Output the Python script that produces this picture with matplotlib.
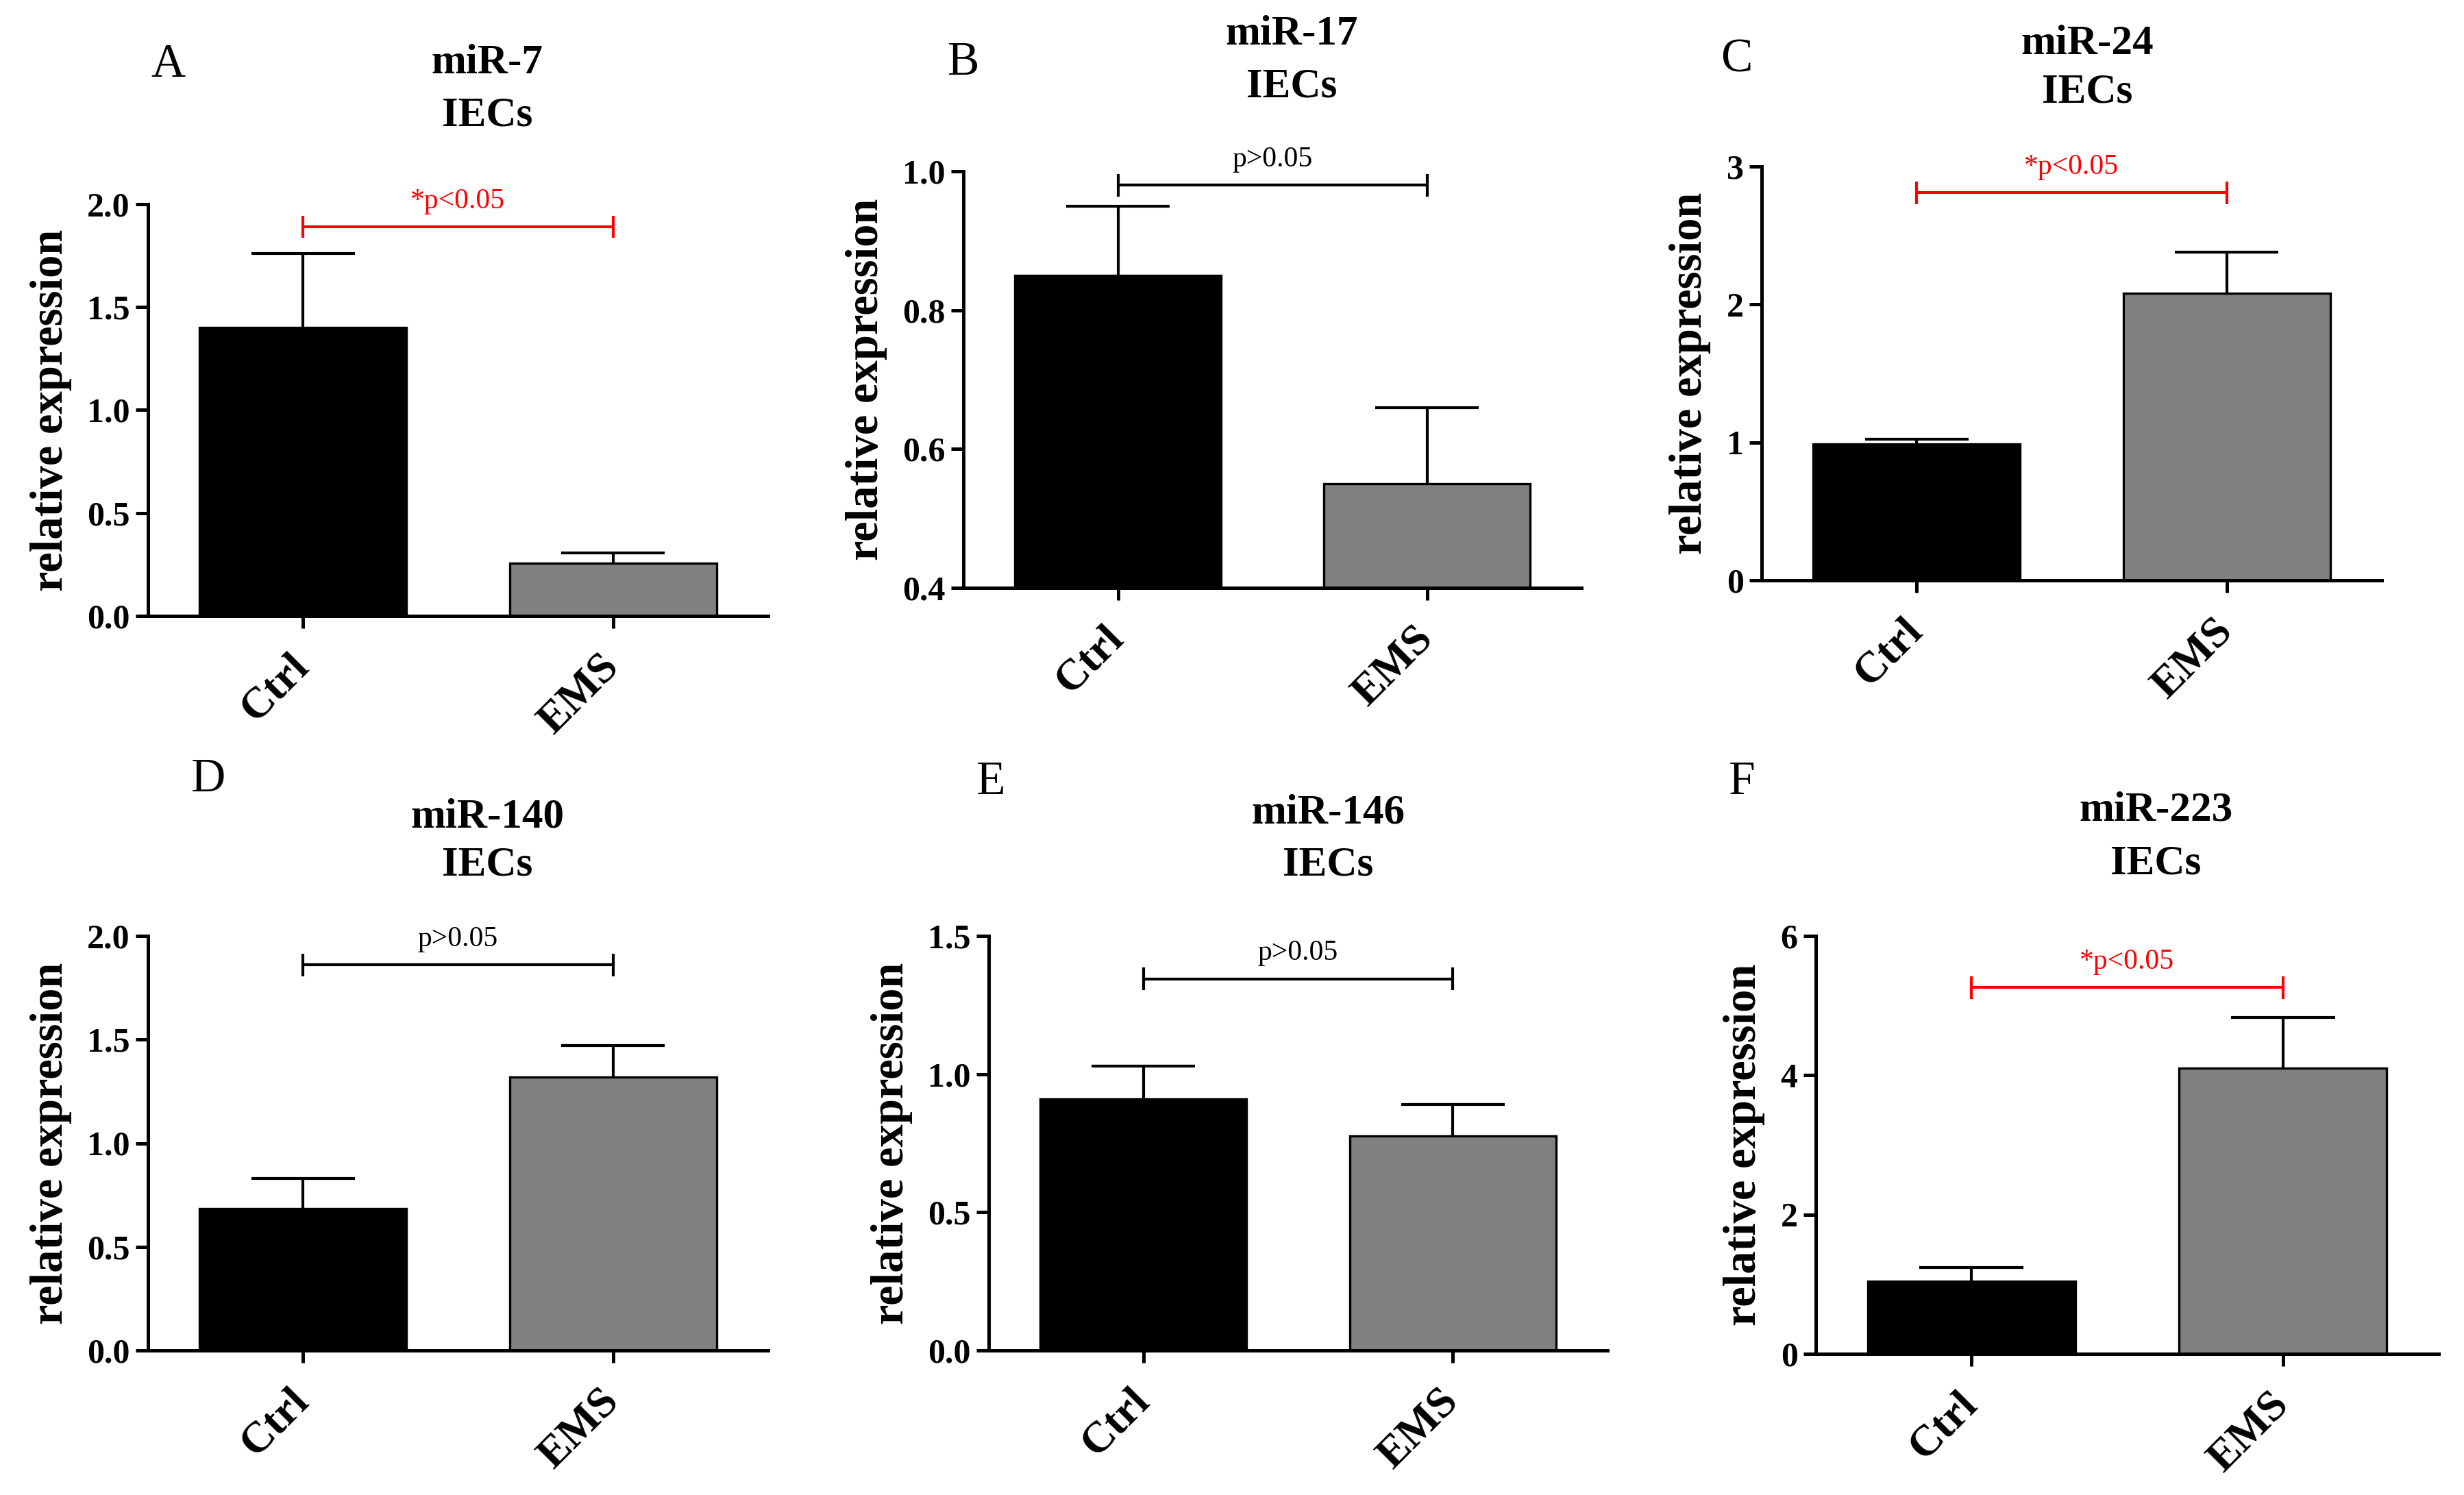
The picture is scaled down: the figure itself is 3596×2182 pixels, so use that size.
import matplotlib
matplotlib.use("Agg")
import matplotlib.pyplot as plt
import matplotlib.transforms as mtransforms
import numpy as np

plt.rcParams["font.family"] = ["Liberation Serif", "DejaVu Serif"]

W, H, DPI = 3596, 2182, 200

# data
panel_letters = ["A", "B", "C", "D", "E", "F"]
mirnas = ["miR-7", "miR-17", "miR-24", "miR-140", "miR-146", "miR-223"]
cell_type = "IECs"
groups = ["Ctrl", "EMS"]
ctrl_mean = [1.40, 0.85, 0.99, 0.685, 0.91, 1.04]
ctrl_sem = [0.36, 0.10, 0.035, 0.145, 0.12, 0.20]
ems_mean = [0.255, 0.55, 2.08, 1.32, 0.775, 4.10]
ems_sem = [0.05, 0.11, 0.30, 0.15, 0.115, 0.73]
p_labels = ["*p<0.05", "p>0.05", "*p<0.05", "p>0.05", "p>0.05", "*p<0.05"]
significant = [True, False, True, False, False, True]
bracket_y = [1.89, 0.98, 2.81, 1.86, 1.345, 5.26]
y_limits = [(0, 2.0), (0.4, 1.0), (0, 3), (0, 2.0), (0, 1.5), (0, 6)]
y_steps = [0.5, 0.2, 1, 0.5, 0.5, 2]
y_formats = ["%.1f", "%.1f", "%d", "%.1f", "%.1f", "%d"]

# layout in pixels: axes box (left, top, right, bottom), title centre, letter centre
axes_boxes = [(216, 298, 1121, 899), (1406, 250, 2308, 858), (2571, 243, 3476, 847),
              (216, 1366, 1121, 1971), (1443, 1366, 2346, 1971), (2650, 1366, 3559, 1976)]
title_pos = [(711, 92, 168), (1885, 50, 127), (3046, 64, 134),
             (711, 1193, 1263), (1938, 1186, 1263), (3146, 1182, 1260)]
letter_pos = [(245, 95), (1406, 92), (2534, 88), (304, 1138), (1446, 1142), (2542, 1142)]

bar_colors = ["black", "#808080"]
SPINE_LW = 1.8
LW = 1.5

fig = plt.figure(figsize=(W / DPI, H / DPI), dpi=DPI)
label_shift = mtransforms.ScaledTranslation(13 / DPI, 0, fig.dpi_scale_trans)


def fx(px):
    return px / W


def fy(py):
    return 1 - py / H


for i in range(6):
    l, t, r, b = axes_boxes[i]
    ax = fig.add_axes([fx(l), fy(b), fx(r - l), (b - t) / H])

    x = np.arange(len(groups))
    means = [ctrl_mean[i], ems_mean[i]]
    sems = [ctrl_sem[i], ems_sem[i]]
    width = 0.667

    # error bars (upper only) drawn under the bars
    for xi, m, s in zip(x, means, sems):
        ax.vlines(xi, m, m + s, color="black", lw=LW, zorder=1)
        ax.hlines(m + s, xi - width / 4, xi + width / 4, color="black", lw=LW, zorder=1)
    ax.bar(x, means, width=width, color=bar_colors, edgecolor="black",
           linewidth=1.2, zorder=2)

    ymin, ymax = y_limits[i]
    ax.set_xlim(-0.5, 1.5)
    ax.set_ylim(ymin, ymax)
    yt = np.arange(ymin, ymax + y_steps[i] / 2, y_steps[i])
    ax.set_yticks(yt)
    ax.set_yticklabels([y_formats[i] % v for v in yt], fontsize=18, fontweight="bold")
    ax.set_xticks(x)
    ax.set_xticklabels(groups, fontsize=23, fontweight="bold", rotation=45,
                       ha="right", va="center", rotation_mode="anchor")
    for lab in ax.get_xticklabels():
        lab.set_transform(lab.get_transform() + label_shift)
    ax.tick_params(axis="x", length=6.5, width=SPINE_LW, pad=17)
    ax.tick_params(axis="y", length=6.5, width=SPINE_LW, pad=3)

    for side in ["top", "right"]:
        ax.spines[side].set_visible(False)
    for side in ["left", "bottom"]:
        ax.spines[side].set_linewidth(SPINE_LW)

    ax.set_ylabel("relative expression", fontsize=24, fontweight="bold", labelpad=8)

    # significance bracket
    col = "red" if significant[i] else "black"
    yr = ymax - ymin
    by = bracket_y[i]
    ax.hlines(by, 0, 1, color=col, lw=LW, clip_on=False)
    ax.vlines([0, 1], by - 0.027 * yr, by + 0.027 * yr, color=col, lw=LW, clip_on=False)
    ax.text(0.5, by + 0.03 * yr, p_labels[i], color=col, fontsize=15,
            ha="center", va="bottom", clip_on=False)

    # titles and panel letters
    tx, ty1, ty2 = title_pos[i]
    fig.text(fx(tx), fy(ty1), mirnas[i], fontsize=22, fontweight="bold",
             ha="center", va="center")
    fig.text(fx(tx), fy(ty2), cell_type, fontsize=22, fontweight="bold",
             ha="center", va="center")
    lx, ly = letter_pos[i]
    fig.text(fx(lx), fy(ly), panel_letters[i], fontsize=25, ha="center", va="center")

fig.savefig("out.png", dpi=DPI, facecolor="white")
